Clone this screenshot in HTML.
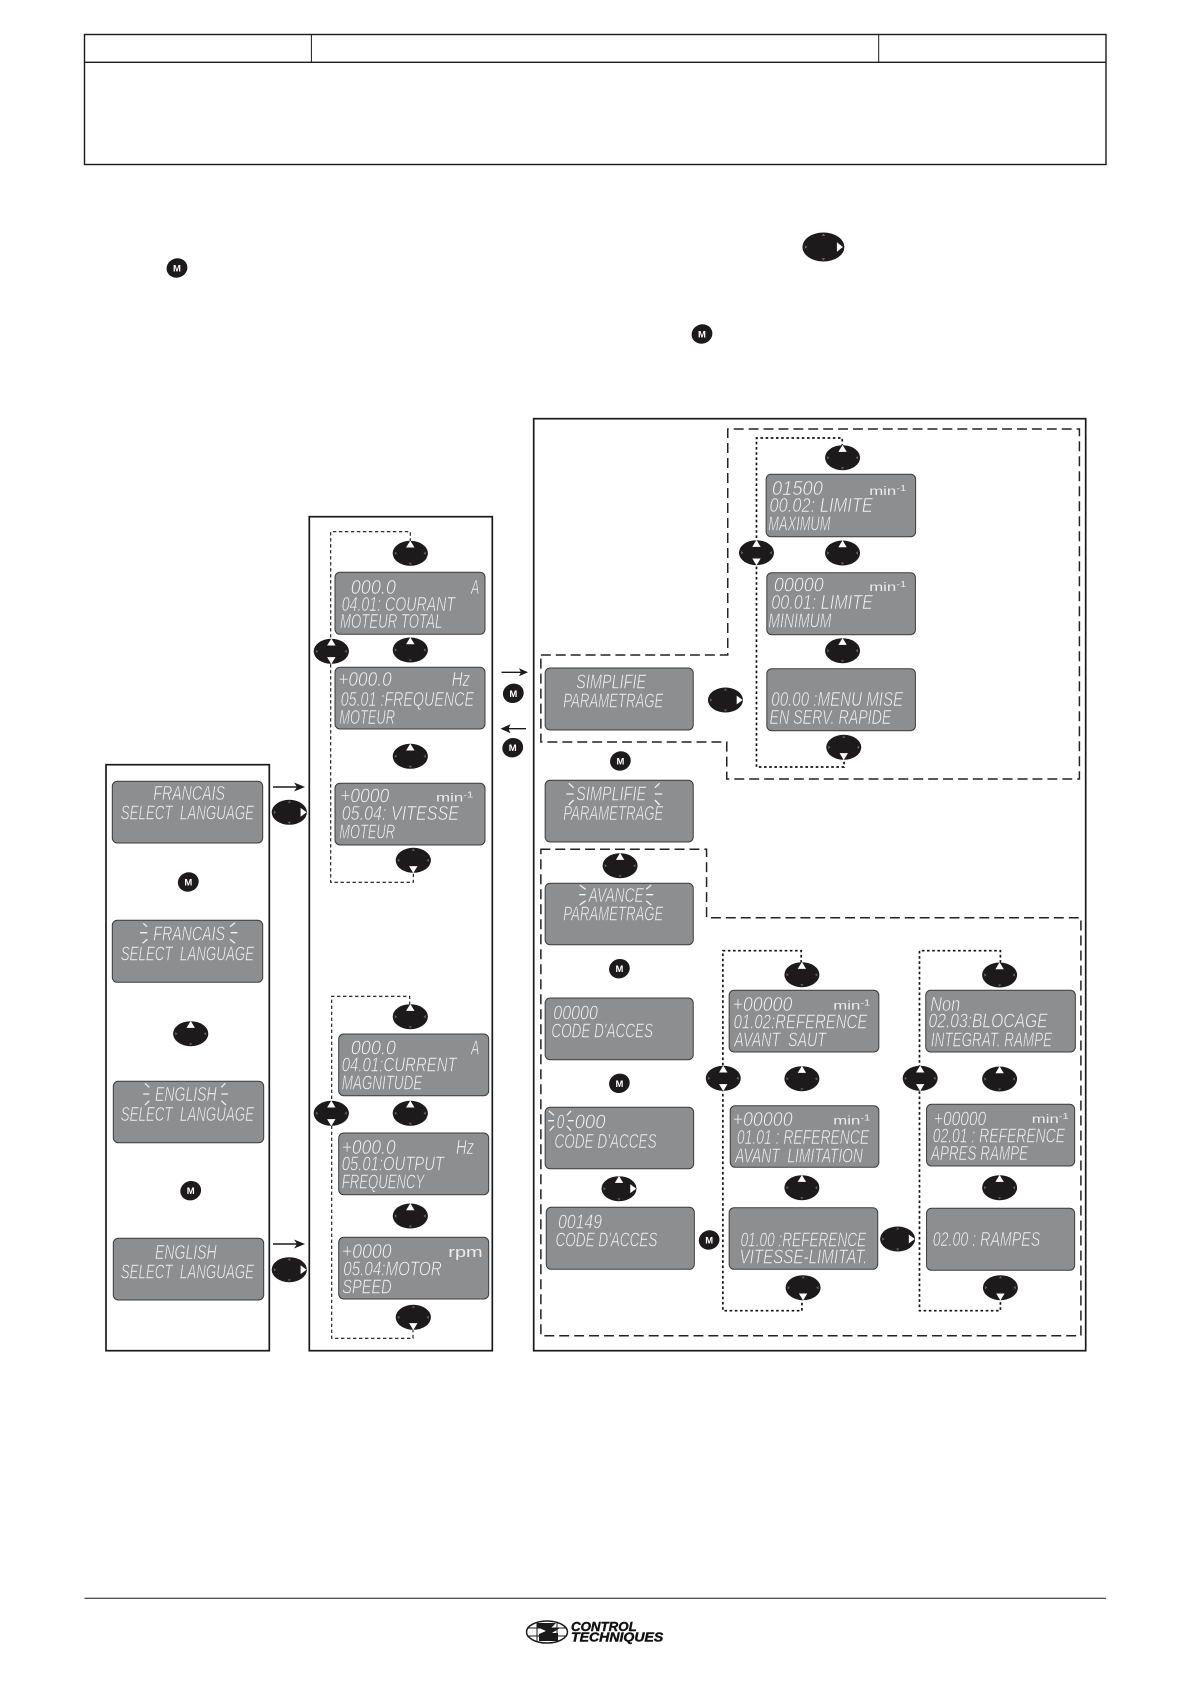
<!DOCTYPE html>
<html><head><meta charset="utf-8"><title>Diagram</title>
<style>
html,body{margin:0;padding:0;background:#fff}
svg{display:block}
.p{fill:#8d8e90;stroke:#3c3c3c;stroke-width:1}
.l{font-family:"Liberation Sans",sans-serif;font-style:italic;font-size:20px;fill:#f4f4f4;stroke:#8d8e90;stroke-width:.55}
.s{font-family:"Liberation Sans",sans-serif;font-size:12px;fill:#ececec}
.m{font-family:"Liberation Sans",sans-serif;font-weight:bold;font-size:9.5px;fill:#fff;text-anchor:middle}
.b{fill:#fff;stroke:#1a1a1a;stroke-width:1.7}
.t{stroke:#1a1a1a;stroke-width:1.4;fill:none}
.r{stroke:#f2f2f2;stroke-width:1.3;fill:none}
.d1{fill:none;stroke:#111;stroke-width:1.1;stroke-dasharray:3.4 2.6}
.d2{fill:none;stroke:#111;stroke-width:1.7;stroke-dasharray:2.6 2.6}
.d3{fill:none;stroke:#222;stroke-width:1.5;stroke-dasharray:10 5}
</style></head><body>
<svg xmlns="http://www.w3.org/2000/svg" width="1190" height="1684" viewBox="0 0 1190 1684">
<defs>
<g id="n"><ellipse rx="17.6" ry="12.5" fill="#1c1a1b"/><path d="M-1.6-9.5h3.2L0-11.7zM-1.6 9.5h3.2L0 11.7zM-15.5-1.7v3.4L-13.2 0zM15.5-1.7v3.4L13.2 0z" fill="#666"/></g>
<path id="u" d="M-4.2-5.8H4.2L0-12.8z" fill="#fff"/>
<path id="w" d="M-4.2 5.8H4.2L0 12.8z" fill="#fff"/>
<path id="v" d="M11.3-4.4V4.4L17.3 0z" fill="#fff"/>
<g id="a"><use href="#n"/><use href="#u"/></g>
<g id="b"><use href="#n"/><use href="#w"/></g>
<g id="c"><use href="#n"/><use href="#v"/></g>
<g id="e"><use href="#n"/><use href="#u"/><use href="#w"/></g>
<g id="f"><use href="#n"/><use href="#u"/><use href="#v"/></g>
<ellipse id="o" rx="10.5" ry="9.6" fill="#1c1a1b" transform="rotate(-20)"/>
</defs>

<!-- header table -->
<rect x="84.5" y="34.5" width="1021.5" height="130" fill="none" stroke="#1a1a1a" stroke-width="1.4"/>
<path d="M84.5 62.3H1106" class="t"/>
<path d="M311.4 34.5V62.3M878.7 34.5V62.3" stroke="#1a1a1a" stroke-width="1"/>

<!-- inline icons -->
<g transform="translate(823.4 247)"><ellipse rx="21" ry="14.5" fill="#1c1a1b"/><path d="M-1.7-11h3.4L0-13.5zM-1.7 11h3.4L0 13.5zM-18.5-1.7v3.4L-16 0z" fill="#666"/><path d="M13.5-4.8V4.8L19.5 0z" fill="#fff"/></g>
<use href="#o" transform="translate(177 268)"/><text class="m" x="177" y="271.5">M</text>
<use href="#o" transform="translate(702 334)"/><text class="m" x="702" y="337.5">M</text>

<!-- containers -->
<rect class="b" x="106" y="764.7" width="163.3" height="586"/>
<rect class="b" x="309.3" y="516.7" width="183" height="834"/>
<rect class="b" x="533.7" y="418.7" width="552" height="932"/>

<!-- dashed loops, left/mid -->
<path class="d1" d="M410.3 541.7V531.7H330.7V882.3H413.3V872"/>
<path class="d1" d="M409.7 1005V996.3H331.7V1338.3H413V1330"/>

<!-- arrows -->
<path class="t" d="M273 787H300"/><path d="M305 787l-11-4.5 3 4.5-3 4.5z" fill="#1a1a1a"/>
<path class="t" d="M273 1244H300"/><path d="M305 1244l-11-4.5 3 4.5-3 4.5z" fill="#1a1a1a"/>
<path class="t" d="M501.5 672.3H523" stroke-width="1"/><path d="M528 672.3l-9-4 2 4-2 4z" fill="#1a1a1a"/>
<path class="t" d="M505 728.7H526"/><path d="M500.5 728.7l10-4.5-2 4.5 2 4.5z" fill="#1a1a1a"/>

<!-- LCD panels left/mid -->
<rect class="p" x="112.3" y="781.3" width="150.4" height="61.7" rx="5"/>
<rect class="p" x="112.3" y="920.3" width="150.4" height="62" rx="5"/>
<rect class="p" x="113.3" y="1081.3" width="150.4" height="61.4" rx="5"/>
<rect class="p" x="113.3" y="1238.3" width="150.4" height="61.7" rx="5"/>
<rect class="p" x="335" y="572.3" width="150" height="62" rx="5"/>
<rect class="p" x="335" y="667.3" width="150" height="61.7" rx="5"/>
<rect class="p" x="335" y="783.3" width="150" height="61.7" rx="5"/>
<rect class="p" x="338.7" y="1034" width="150" height="61.7" rx="5"/>
<rect class="p" x="338.7" y="1133" width="150" height="61.7" rx="5"/>
<rect class="p" x="338.7" y="1237.3" width="150" height="61.7" rx="5"/>

<!-- LCD text: language column -->
<text class="l" x="153.3" y="800" textLength="71.7" lengthAdjust="spacingAndGlyphs">FRANCAIS</text>
<text class="l" x="120.7" y="819.3" textLength="133.3" lengthAdjust="spacingAndGlyphs" xml:space="preserve">SELECT  LANGUAGE</text>
<text class="l" x="153.3" y="940.7" textLength="71.7" lengthAdjust="spacingAndGlyphs">FRANCAIS</text>
<text class="l" x="120.7" y="960.7" textLength="133.3" lengthAdjust="spacingAndGlyphs" xml:space="preserve">SELECT  LANGUAGE</text>
<text class="l" x="155" y="1101" textLength="61.7" lengthAdjust="spacingAndGlyphs">ENGLISH</text>
<text class="l" x="120.7" y="1121" textLength="133.3" lengthAdjust="spacingAndGlyphs" xml:space="preserve">SELECT  LANGUAGE</text>
<text class="l" x="155" y="1259" textLength="61.7" lengthAdjust="spacingAndGlyphs">ENGLISH</text>
<text class="l" x="120.7" y="1278.7" textLength="133.3" lengthAdjust="spacingAndGlyphs" xml:space="preserve">SELECT  LANGUAGE</text>

<!-- LCD text: middle column top -->
<text class="l" x="350.7" y="594" textLength="45.3" lengthAdjust="spacingAndGlyphs">000.0</text>
<text class="l" x="471" y="594" textLength="8.3" lengthAdjust="spacingAndGlyphs">A</text>
<text class="l" x="341.7" y="611" textLength="113.3" lengthAdjust="spacingAndGlyphs">04.01: COURANT</text>
<text class="l" x="340" y="628" textLength="102.3" lengthAdjust="spacingAndGlyphs">MOTEUR TOTAL</text>
<text class="l" x="338.3" y="686" textLength="53.4" lengthAdjust="spacingAndGlyphs">+000.0</text>
<text class="l" x="451.7" y="686" textLength="18.3" lengthAdjust="spacingAndGlyphs">Hz</text>
<text class="l" x="340.7" y="706" textLength="133.3" lengthAdjust="spacingAndGlyphs">05.01 :FREQUENCE</text>
<text class="l" x="339.3" y="724" textLength="55.7" lengthAdjust="spacingAndGlyphs">MOTEUR</text>
<text class="l" x="340" y="802.7" textLength="49.3" lengthAdjust="spacingAndGlyphs">+0000</text>
<text class="s" x="436" y="801.7" textLength="37.3" lengthAdjust="spacingAndGlyphs">min<tspan dy="-4" font-size="8">-1</tspan></text>
<text class="l" x="341.7" y="820" textLength="117.3" lengthAdjust="spacingAndGlyphs">05.04: VITESSE</text>
<text class="l" x="339.3" y="838.7" textLength="55.7" lengthAdjust="spacingAndGlyphs">MOTEUR</text>

<!-- LCD text: middle column bottom -->
<text class="l" x="350.7" y="1054.7" textLength="45.3" lengthAdjust="spacingAndGlyphs">000.0</text>
<text class="l" x="471" y="1054.7" textLength="8.3" lengthAdjust="spacingAndGlyphs">A</text>
<text class="l" x="341.7" y="1071.7" textLength="115" lengthAdjust="spacingAndGlyphs">04.01:CURRENT</text>
<text class="l" x="341.7" y="1089.7" textLength="80.6" lengthAdjust="spacingAndGlyphs">MAGNITUDE</text>
<text class="l" x="341.7" y="1154" textLength="54" lengthAdjust="spacingAndGlyphs">+000.0</text>
<text class="l" x="456" y="1154" textLength="18" lengthAdjust="spacingAndGlyphs">Hz</text>
<text class="l" x="341.7" y="1170.7" textLength="102.3" lengthAdjust="spacingAndGlyphs">05.01:OUTPUT</text>
<text class="l" x="341.7" y="1188.7" textLength="82.6" lengthAdjust="spacingAndGlyphs">FREQUENCY</text>
<text class="l" x="341.7" y="1258" textLength="50" lengthAdjust="spacingAndGlyphs">+0000</text>
<text class="s" x="448.3" y="1257" textLength="34.4" lengthAdjust="spacingAndGlyphs" style="font-size:15px">rpm</text>
<text class="l" x="343.3" y="1275.3" textLength="98.4" lengthAdjust="spacingAndGlyphs">05.04:MOTOR</text>
<text class="l" x="342.3" y="1293.7" textLength="49.4" lengthAdjust="spacingAndGlyphs">SPEED</text>

<!-- blink rays left -->
<path class="r" d="M143.3 923.3L147 926.7M140 932.7H147.3M142.7 943.3L147.3 939.3M235 922.7L230 926.7M230.7 932.7H237.3M230 939.3L235 943.3"/>
<path class="r" d="M145 1083.3L149.3 1087.3M143.3 1094H149.3M145 1105L149.3 1100.7M225.3 1083.3L221.3 1087.3M221.3 1094H228M221.3 1100.7L226 1105"/>

<!-- nav buttons left/mid -->
<use href="#a" x="410.3" y="553.3"/>
<use href="#e" x="331.3" y="651.3"/>
<use href="#a" x="410.3" y="650"/>
<use href="#a" x="410.3" y="756.3"/>
<use href="#b" x="413.3" y="860.3"/>
<use href="#c" x="289.3" y="812.3"/>
<use href="#a" x="190.7" y="1033.7"/>
<use href="#a" x="410.3" y="1016.7"/>
<use href="#e" x="331.3" y="1113.3"/>
<use href="#a" x="410.3" y="1113.3"/>
<use href="#a" x="410.3" y="1216"/>
<use href="#b" x="413.3" y="1317.3"/>
<use href="#c" x="289.3" y="1269.7"/>

<!-- M buttons left/mid -->
<use href="#o" transform="translate(188.3 882)"/><text class="m" x="188.3" y="885.5">M</text>
<use href="#o" transform="translate(513.3 693.3)"/><text class="m" x="513.3" y="696.8">M</text>
<use href="#o" transform="translate(512.7 747.7)"/><text class="m" x="512.7" y="751.2">M</text>
<use href="#o" transform="translate(190.7 1190.7)"/><text class="m" x="190.7" y="1194.2">M</text>

<!-- right container contents -->
<g transform="translate(3.12 0) scale(.994 1)">
<path class="d3" d="M541 655H729V429H1082.8V779H728V742H541V655"/>
<path class="d3" d="M540.5 849.3H707.7V917.7H1084.3V1335.7H541V849.3"/>
<path class="d2" d="M844.2 446.7V438H757.9V767H846V760"/>
<path class="d2" d="M802.9 962.7V950.7H724.1V1310.7H803.6V1299"/>
<path class="d2" d="M1003.3 962.7V950.7H921.9V1310.7H1003.3V1299"/>

<rect class="p" x="545.3" y="668" width="149" height="62" rx="5"/>
<rect class="p" x="545.3" y="780.3" width="149" height="61.7" rx="5"/>
<rect class="p" x="545.3" y="883.3" width="149" height="61.4" rx="5"/>
<rect class="p" x="545.3" y="998" width="149" height="61.7" rx="5"/>
<rect class="p" x="545.3" y="1107.3" width="149.4" height="61.4" rx="5"/>
<rect class="p" x="546.4" y="1207.3" width="149" height="62" rx="5"/>
<rect class="p" x="767.6" y="474.3" width="150.4" height="62.4" rx="5"/>
<rect class="p" x="768.3" y="572.7" width="149.5" height="62" rx="5"/>
<rect class="p" x="768.3" y="668.7" width="149.5" height="62" rx="5"/>
<rect class="p" x="730.4" y="990.3" width="150.6" height="61.7" rx="5"/>
<rect class="p" x="731.5" y="1105.7" width="149.5" height="61.6" rx="5"/>
<rect class="p" x="730.4" y="1207.7" width="149.5" height="61.6" rx="5"/>
<rect class="p" x="928.2" y="990.3" width="150.5" height="61.7" rx="5"/>
<rect class="p" x="929" y="1104.3" width="149" height="61.7" rx="5"/>
<rect class="p" x="929" y="1208.3" width="149" height="62" rx="5"/>

<text class="l" x="576.5" y="688.3" textLength="70.5" lengthAdjust="spacingAndGlyphs">SIMPLIFIE</text>
<text class="l" x="563.5" y="707.7" textLength="100.7" lengthAdjust="spacingAndGlyphs">PARAMETRAGE</text>
<text class="l" x="576.5" y="800.7" textLength="70.5" lengthAdjust="spacingAndGlyphs">SIMPLIFIE</text>
<text class="l" x="563.5" y="820" textLength="100.7" lengthAdjust="spacingAndGlyphs">PARAMETRAGE</text>
<text class="l" x="589" y="902" textLength="55.5" lengthAdjust="spacingAndGlyphs">AVANCE</text>
<text class="l" x="563.5" y="920.7" textLength="100.7" lengthAdjust="spacingAndGlyphs">PARAMETRAGE</text>
<text class="l" x="553.5" y="1019.3" textLength="44.9" lengthAdjust="spacingAndGlyphs">00000</text>
<text class="l" x="551.6" y="1037.3" textLength="102.2" lengthAdjust="spacingAndGlyphs">CODE D'ACCES</text>
<text class="l" x="557" y="1128.7" textLength="7.6" lengthAdjust="spacingAndGlyphs">0</text>
<text class="l" x="575" y="1128.7" textLength="31" lengthAdjust="spacingAndGlyphs">000</text>
<text class="l" x="554.6" y="1148" textLength="102.9" lengthAdjust="spacingAndGlyphs">CODE D'ACCES</text>
<text class="l" x="558.3" y="1228.3" textLength="44.2" lengthAdjust="spacingAndGlyphs">00149</text>
<text class="l" x="555.7" y="1246.7" textLength="102.6" lengthAdjust="spacingAndGlyphs">CODE D'ACCES</text>

<text class="l" x="773.5" y="495" textLength="51.3" lengthAdjust="spacingAndGlyphs">01500</text>
<text class="s" x="871.3" y="495" textLength="37.2" lengthAdjust="spacingAndGlyphs">min<tspan dy="-4" font-size="8">-1</tspan></text>
<text class="l" x="771" y="512" textLength="104" lengthAdjust="spacingAndGlyphs">00.02: LIMITE</text>
<text class="l" x="769.8" y="530.3" textLength="62.5" lengthAdjust="spacingAndGlyphs">MAXIMUM</text>
<text class="l" x="775.4" y="591.7" textLength="50.2" lengthAdjust="spacingAndGlyphs">00000</text>
<text class="s" x="871.3" y="591" textLength="37.2" lengthAdjust="spacingAndGlyphs">min<tspan dy="-4" font-size="8">-1</tspan></text>
<text class="l" x="772.8" y="609" textLength="102.2" lengthAdjust="spacingAndGlyphs">00.01: LIMITE</text>
<text class="l" x="769.8" y="627.3" textLength="63.6" lengthAdjust="spacingAndGlyphs">MINIMUM</text>
<text class="l" x="772.8" y="706" textLength="132.7" lengthAdjust="spacingAndGlyphs">00.00 :MENU MISE</text>
<text class="l" x="771" y="724" textLength="122.6" lengthAdjust="spacingAndGlyphs">EN SERV. RAPIDE</text>

<text class="l" x="733.8" y="1011" textLength="60.2" lengthAdjust="spacingAndGlyphs">+00000</text>
<text class="s" x="835.2" y="1009.3" textLength="37.2" lengthAdjust="spacingAndGlyphs">min<tspan dy="-4" font-size="8">-1</tspan></text>
<text class="l" x="734.9" y="1028.3" textLength="134.5" lengthAdjust="spacingAndGlyphs">01.02:REFERENCE</text>
<text class="l" x="735.6" y="1046.3" textLength="92.2" lengthAdjust="spacingAndGlyphs" xml:space="preserve">AVANT  SAUT</text>
<text class="l" x="733.8" y="1126" textLength="60.5" lengthAdjust="spacingAndGlyphs">+00000</text>
<text class="s" x="835.2" y="1124.3" textLength="37.2" lengthAdjust="spacingAndGlyphs">min<tspan dy="-4" font-size="8">-1</tspan></text>
<text class="l" x="738.2" y="1144" textLength="133.1" lengthAdjust="spacingAndGlyphs">01.01 : REFERENCE</text>
<text class="l" x="736.4" y="1162.3" textLength="128.6" lengthAdjust="spacingAndGlyphs" xml:space="preserve">AVANT  LIMITATION</text>
<text class="l" x="741.9" y="1246.7" textLength="126.4" lengthAdjust="spacingAndGlyphs">01.00 :REFERENCE</text>
<text class="l" x="740.8" y="1263.3" textLength="128.6" lengthAdjust="spacingAndGlyphs">VITESSE-LIMITAT.</text>

<text class="l" x="932.6" y="1011" textLength="30.4" lengthAdjust="spacingAndGlyphs">Non</text>
<text class="l" x="931" y="1027.7" textLength="119.8" lengthAdjust="spacingAndGlyphs">02.03:BLOCAGE</text>
<text class="l" x="933.4" y="1046.7" textLength="121.9" lengthAdjust="spacingAndGlyphs">INTEGRAT. RAMPE</text>
<text class="l" x="936.4" y="1125.7" textLength="52.6" lengthAdjust="spacingAndGlyphs">+00000</text>
<text class="s" x="1034.9" y="1123" textLength="37.1" lengthAdjust="spacingAndGlyphs">min<tspan dy="-4" font-size="8">-1</tspan></text>
<text class="l" x="935.2" y="1142.3" textLength="133.1" lengthAdjust="spacingAndGlyphs">02.01 : REFERENCE</text>
<text class="l" x="933.4" y="1160" textLength="97.8" lengthAdjust="spacingAndGlyphs">APRES RAMPE</text>
<text class="l" x="935.2" y="1246" textLength="108.2" lengthAdjust="spacingAndGlyphs">02.00 : RAMPES</text>

<path class="r" d="M569 783.3L574 787.7M566.5 794H574M569 805L574 800M660.5 783.3L655.7 787.7M655.7 794H663M655.7 800L660.5 805"/>
<path class="r" d="M580 885L586 889.3M579.5 894.7H586M580 905L586 900.7M652 885L647 889.3M647 894.7H654M647 900.7L652 905"/>
<path class="r" d="M549 1111L554.2 1115.3M548.3 1120.7H554.2M549.7 1130.7L554.2 1126M571.3 1111L567.2 1115.3M568.3 1120.7H574M567.2 1126L571.3 1130.7"/>

<use href="#a" x="844.5" y="457.7"/>
<use href="#e" x="757.9" y="552.7"/>
<use href="#a" x="844.5" y="553"/>
<use href="#a" x="844.5" y="650.7"/>
<use href="#c" x="726.7" y="700"/>
<use href="#b" x="845.7" y="747.3"/>
<use href="#a" x="620.7" y="865.7"/>
<use href="#a" x="803.6" y="974.7"/>
<use href="#a" x="1002.5" y="975"/>
<use href="#e" x="724.5" y="1078.3"/>
<use href="#a" x="803.6" y="1078.7"/>
<use href="#e" x="922.6" y="1078.3"/>
<use href="#a" x="1002.5" y="1079"/>
<use href="#f" x="619.6" y="1188.7"/>
<use href="#a" x="803.6" y="1187.7"/>
<use href="#a" x="1002.5" y="1187.7"/>
<use href="#c" x="899.9" y="1239"/>
<use href="#b" x="804.8" y="1287.7"/>
<use href="#b" x="1003.3" y="1287.7"/>

<use href="#o" transform="translate(621 761)"/><text class="m" x="621" y="764.5">M</text>
<use href="#o" transform="translate(620 968.7)"/><text class="m" x="620" y="972.2">M</text>
<use href="#o" transform="translate(620 1083.3)"/><text class="m" x="620" y="1086.8">M</text>
<use href="#o" transform="translate(710.3 1240)"/><text class="m" x="710.3" y="1243.5">M</text>
</g>

<!-- footer -->
<path d="M84.5 1598.3H1106" stroke="#1a1a1a" stroke-width="1"/>
<ellipse cx="547" cy="1632" rx="20.5" ry="11" fill="#fff" stroke="#1a1a1a" stroke-width="1.5"/>
<path d="M527 1628H567M527 1636H567M537 1622V1642M557 1622V1642" stroke="#1a1a1a" stroke-width="1"/>
<path d="M537 1623H556L551 1628H560L552 1633H558V1641H539V1634L546 1631L537 1627z" fill="#1a1a1a"/>
<text x="571" y="1631" textLength="65.7" lengthAdjust="spacingAndGlyphs" font-family="Liberation Sans, sans-serif" font-weight="bold" font-style="italic" font-size="12.5" fill="#111" stroke="#111" stroke-width=".4">CONTROL</text>
<text x="571" y="1641.7" textLength="92.3" lengthAdjust="spacingAndGlyphs" font-family="Liberation Sans, sans-serif" font-weight="bold" font-style="italic" font-size="12.5" fill="#111" stroke="#111" stroke-width=".4">TECHNIQUES</text>
</svg>
</body></html>
